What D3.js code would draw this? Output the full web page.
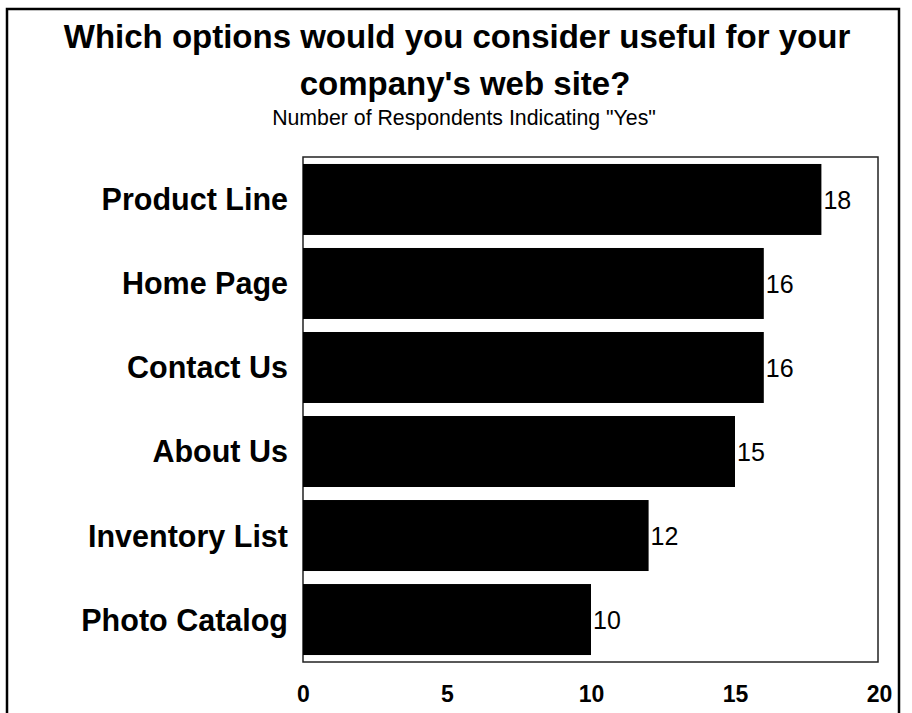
<!DOCTYPE html>
<html>
<head>
<meta charset="utf-8">
<script src="https://cdn.jsdelivr.net/npm/d3@7"></script>
<style>
  html, body { margin: 0; padding: 0; background: #fff; }
  svg { display: block; font-family: Arial, "Liberation Sans", Helvetica, sans-serif; }
</style>
</head>
<body>
<svg id="chart" width="912" height="713"></svg>
<script>
// Survey responses: options respondents consider useful for the company web site
const categories = ["Product Line", "Home Page", "Contact Us", "About Us", "Inventory List", "Photo Catalog"];
const yesCounts = [18, 16, 16, 15, 12, 10];
const tickValues = [0, 5, 10, 15, 20];

const titleLines = ["Which options would you consider useful for your", "company's web site?"];
const subtitle = 'Number of Respondents Indicating "Yes"';

const svg = d3.select("#chart");

// Plot area
const plot = { left: 303, top: 157, right: 878, bottom: 662 };

const x = d3.scaleLinear().domain([0, 20]).range([plot.left, plot.right + 1]);
const y = d3.scaleBand()
  .domain(categories)
  .range([plot.top, plot.bottom])
  .paddingInner(0.155)
  .paddingOuter(0.083);

// Outer frame
svg.append("rect")
  .attr("x", 7).attr("y", 9)
  .attr("width", 892).attr("height", 720)
  .attr("fill", "none")
  .attr("stroke", "#000")
  .attr("stroke-width", 2.5);

// Titles (second line sits a little right of the first)
const titleX = [457, 465];
svg.append("g").selectAll("text")
  .data(titleLines)
  .join("text")
  .attr("x", (d, i) => titleX[i])
  .attr("y", (d, i) => 48 + i * 47)
  .attr("text-anchor", "middle")
  .attr("font-size", 33)
  .attr("font-weight", "bold")
  .text(d => d);

svg.append("text")
  .attr("x", 464).attr("y", 125)
  .attr("text-anchor", "middle")
  .attr("font-size", 21.3)
  .text(subtitle);

// Plot frame
svg.append("rect")
  .attr("x", plot.left).attr("y", plot.top)
  .attr("width", plot.right - plot.left)
  .attr("height", plot.bottom - plot.top)
  .attr("fill", "none")
  .attr("stroke", "#222")
  .attr("stroke-width", 1.5);

// Bars
svg.append("g").selectAll("rect")
  .data(categories)
  .join("rect")
  .attr("x", x(0))
  .attr("y", d => y(d))
  .attr("width", (d, i) => x(yesCounts[i]) - x(0))
  .attr("height", y.bandwidth())
  .attr("fill", "#000");

// Value labels
svg.append("g").selectAll("text")
  .data(categories)
  .join("text")
  .attr("x", (d, i) => x(yesCounts[i]) + 2)
  .attr("y", d => y(d) + y.bandwidth() / 2)
  .attr("dy", "0.37em")
  .attr("font-size", 25)
  .text((d, i) => yesCounts[i]);

// Category axis labels
const yAxis = d3.axisLeft(y).tickSize(0).tickPadding(15);
svg.append("g")
  .attr("transform", `translate(${plot.left},0)`)
  .call(yAxis)
  .call(g => g.select(".domain").remove())
  .call(g => g.selectAll("text")
    .attr("font-size", 30.5)
    .attr("font-weight", "bold")
    .attr("font-family", null)
    .attr("fill", "#000")
    .attr("dy", "0.36em"));

// Value axis labels
const xAxis = d3.axisBottom(x).tickValues(tickValues).tickSize(0);
svg.append("g")
  .attr("transform", `translate(0,${plot.bottom})`)
  .call(xAxis)
  .call(g => g.select(".domain").remove())
  .call(g => g.selectAll("text")
    .attr("y", 40)
    .attr("dy", 0)
    .attr("font-size", 23)
    .attr("font-weight", "bold")
    .attr("font-family", null)
    .attr("fill", "#000"));
</script>
</body>
</html>
